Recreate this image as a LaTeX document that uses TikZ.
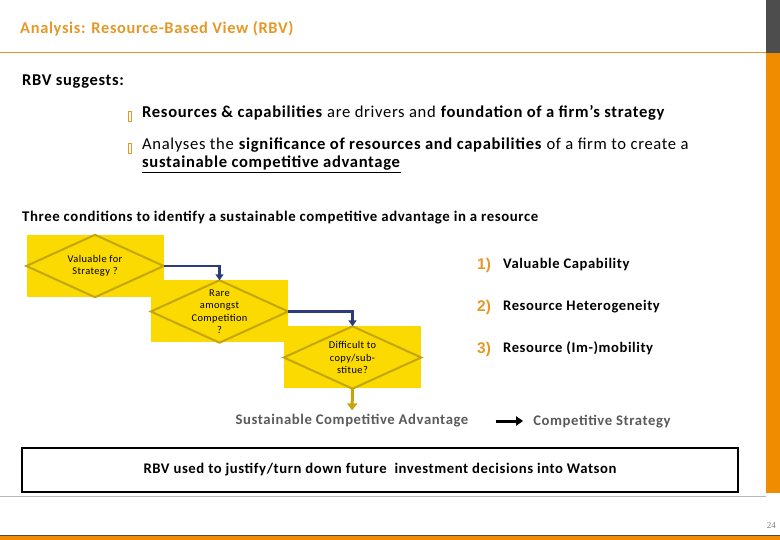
\documentclass[tikz,border=0pt]{standalone}
\usepackage{fontspec}
\setmainfont{Carlito}[LetterSpace=4]
\newfontfamily\numfont{Liberation Sans}
\newfontfamily\pagefont{Liberation Serif}
\usetikzlibrary{positioning, arrows.meta, calc}
\definecolor{rbvorange}{RGB}{229,152,40}
\definecolor{barorange}{RGB}{240,140,0}
\definecolor{bardark}{RGB}{77,77,77}
\definecolor{condyellow}{RGB}{250,218,0}
\definecolor{condline}{RGB}{196,166,10}
\definecolor{flowblue}{RGB}{44,60,120}
\definecolor{softgray}{RGB}{90,90,90}

\begin{document}
\begin{tikzpicture}[x=1pt, y=-1pt,
          cond/.style={fill=condyellow, minimum width=137pt, minimum height=62pt,
                       inner sep=0pt, align=center},
          condtext/.style={align=center, font=\fontsize{10.4}{12.5}\selectfont},
          diam/.style={draw=condline, line width=2pt, line join=miter},
          flow/.style={-{Triangle[length=6pt, width=8pt]}, flowblue, line width=2.2pt},
          num/.style={anchor=base west, font=\numfont\bfseries\fontsize{15.5}{17}\selectfont,
                      text=rbvorange, inner sep=0pt},
          crit/.style={anchor=base west, font=\bfseries\fontsize{14.6}{17}\selectfont, inner sep=0pt},
          txt/.style={anchor=base west, inner sep=0pt, align=left},
          tofu/.style={draw=rbvorange, line width=0.7pt, minimum width=3.5pt,
                       minimum height=10pt, inner sep=0pt},
          outcome/.style={font=\bfseries\fontsize{14.7}{17}\selectfont, text=softgray, inner sep=1pt}]
        \useasboundingbox (0,0) rectangle (780,540);
        % header and side bars
        \fill[bardark] (766,0) rectangle (780,53);
        \fill[barorange] (766,53) rectangle (780,493);
        \draw[rbvorange, line width=1pt] (0,53) -- (766,53);
        \draw[gray!55, line width=0.8pt] (0,496) -- (766,496);
        \fill[barorange] (0,535) rectangle (780,540);
        \draw[black!70, line width=0.6pt] (0,535) -- (780,535);
        \node[txt, font=\bfseries\fontsize{16.4}{19}\selectfont, text=rbvorange] (title) at (20,34)
          {Analysis: Resource-Based View (RBV)};
        \node[anchor=base east, inner sep=0pt, font=\pagefont\fontsize{9}{10}\selectfont, text=gray]
          (page) at (776,528) {24};

        % RBV bullets
        \node[txt, font=\bfseries\fontsize{16.5}{19}\selectfont] (sugg) at (22,86) {RBV suggests:};
        \node[txt, font=\fontsize{16.6}{18}\selectfont] (b1) at (142,118)
          {\textbf{Resources \& capabilities} are drivers and \textbf{foundation of a firm’s strategy}};
        \node[txt, font=\fontsize{16.6}{18}\selectfont] (b2) at (142,168)
          {Analyses the \textbf{significance of resources and capabilities} of a firm to create a\\
           \underline{\textbf{sustainable competitive advantage}}};
        \node[tofu] (t1) at (129.8,116) {};
        \node[tofu] (t2) at (129.8,148) {};

        % three conditions
        \node[txt, font=\bfseries\fontsize{14.8}{17}\selectfont] (three) at (22,222)
          {Three conditions to identify a sustainable competitive advantage in a resource};
        \node[cond] (c1) at (95,266) {};
        \node[cond] (c2) at (219.5,311.5) {};
        \node[cond] (c3) at (352.5,357.5) {};
        \foreach \c in {c1,c2,c3}
          \draw[diam] (\c.west) -- (\c.north) -- (\c.east) -- (\c.south) -- cycle;
        \node[condtext] (q1) at (c1) {Valuable for\\Strategy ?};
        \node[condtext] (q2) at (c2) {Rare\\amongst\\Competition\\?};
        \node[condtext] (q3) at (c3) {Difficult to\\copy/sub-\\stitue?};
        \draw[flow] (c1.east) -| (c2.north);
        \draw[flow] (c2.east) -| (c3.north);

        % outcome
        \node[outcome] (sca) at (352,421) {Sustainable Competitive Advantage};
        \node[outcome] (cs) at (602,422) {Competitive Strategy};
        \draw[-{Triangle[length=7pt, width=10pt]}, condline, line width=3pt, shorten >=3pt]
          (c3.south) -- (sca.north);
        \draw[-{Triangle[length=7pt, width=9pt]}, black, line width=3pt,
              shorten <=26pt, shorten >=9pt] (sca.east) -- (sca.east -| cs.west);

        % criteria list
        \node[num] (n1) at (477,269.5) {1)};
        \node[num] (n2) at (477,311.5) {2)};
        \node[num] (n3) at (477,353.5) {3)};
        \node[crit] (v1) at (503,269) {Valuable Capability};
        \node[crit] (v2) at (503,311) {Resource Heterogeneity};
        \node[crit] (v3) at (503,353) {Resource (Im-)mobility};

        % bottom note
        \node[draw, line width=2pt, minimum width=716pt, minimum height=44pt,
              font=\bfseries\fontsize{14.7}{17}\selectfont] (note) at (380,470)
          {RBV used to justify/turn down future\ \ investment decisions into Watson};
      \end{tikzpicture}
\end{document}
